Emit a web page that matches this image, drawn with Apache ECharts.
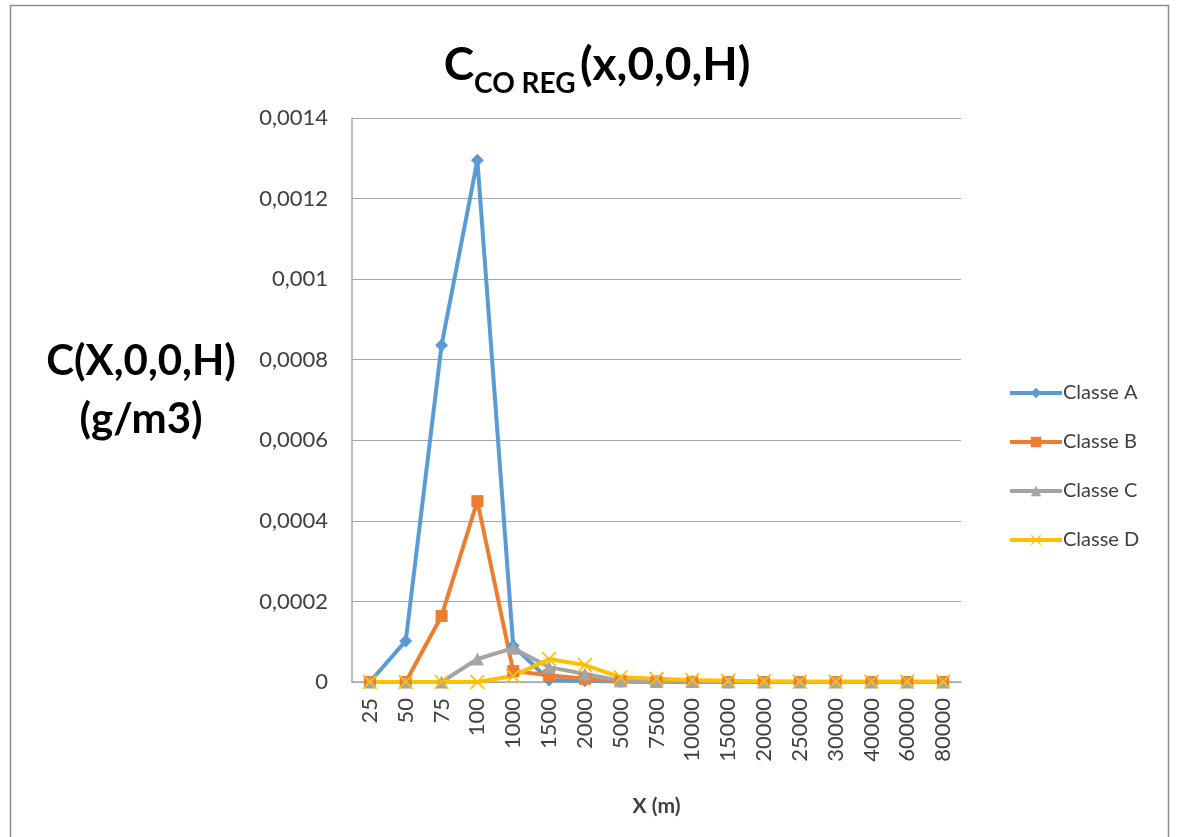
<!DOCTYPE html>
<html>
<head>
<meta charset="utf-8">
<script src="https://cdn.jsdelivr.net/npm/echarts@6/dist/echarts.min.js"></script>
<style>
  html, body { margin: 0; padding: 0; background: #fff; }
  #chart { width: 1177px; height: 837px; }
</style>
</head>
<body>
<div id="chart"></div>
<script>
// Distances along the plume axis (m)
const distances = ['25', '50', '75', '100', '1000', '1500', '2000', '5000', '7500',
  '10000', '15000', '20000', '25000', '30000', '40000', '60000', '80000'];

// Ground-level concentration per stability class (g/m3)
const classeA = [0, 0.000102, 0.000836, 0.001295, 0.00009, 0.000005, 0.000003, 0.000001, 0,
  0, 0, 0, 0, 0, 0, 0, 0];
const classeB = [0, 0, 0.000164, 0.000449, 0.000027, 0.000017, 0.000008, 0.000002, 0.000001,
  0, 0, 0, 0, 0, 0, 0, 0];
const classeC = [0, 0, 0, 0.000057, 0.000084, 0.000037, 0.00002, 0.000003, 0.000001,
  0.000001, 0, 0, 0, 0, 0, 0, 0];
const classeD = [0, 0, 0, 0, 0.000015, 0.000057, 0.000042, 0.000012, 0.000008,
  0.000005, 0.000003, 0.000002, 0.000001, 0.000001, 0.000001, 0.000001, 0.000001];

const seriesNames = ['Classe A', 'Classe B', 'Classe C', 'Classe D'];
const yTicks = { min: 0, max: 0.0014, step: 0.0002 };

const FONT = 'Lato, "Open Sans", sans-serif';
const crossSymbol = 'path://M0,0.8 L0.8,0 L5,4.2 L9.2,0 L10,0.8 L5.8,5 L10,9.2 L9.2,10 L5,5.8 L0.8,10 L0,9.2 L4.2,5 Z';

const chart = echarts.init(document.getElementById('chart'));

function lineSeries(name, data, color, symbol, size) {
  return {
    name: name,
    type: 'line',
    data: data,
    symbol: symbol,
    symbolSize: size,
    showAllSymbol: true,
    lineStyle: { color: color, width: 4 },
    itemStyle: { color: color },
    emphasis: { disabled: true },
    animation: false
  };
}

chart.setOption({
  backgroundColor: '#ffffff',
  textStyle: { fontFamily: FONT },
  graphic: [
    {
      type: 'rect',
      shape: { x: 10.5, y: 5.5, width: 1158, height: 840 },
      style: { fill: 'none', stroke: '#8c8c8c', lineWidth: 1.5 },
      silent: true
    },
    {
      type: 'text',
      x: 141,
      y: 332,
      style: {
        text: 'C(X,0,0,H)\n(g/m3)',
        font: 'bold 42px ' + FONT,
        fill: '#000',
        align: 'center',
        lineHeight: 58
      }
    }
  ],
  title: {
    text: '{c|C}{sub|CO REG} {c|(x,0,0,H)}',
    left: 592,
    textAlign: 'center',
    top: 29,
    textStyle: {
      rich: {
        c: { fontFamily: FONT, fontWeight: 'bold', fontSize: 46, color: '#000', verticalAlign: 'bottom', lineHeight: 54 },
        sub: { fontFamily: FONT, fontWeight: 'bold', fontSize: 28, color: '#000', verticalAlign: 'bottom', padding: [0, 0, -10, 0], lineHeight: 54 }
      }
    }
  },
  legend: {
    orient: 'vertical',
    left: 1003,
    top: 378,
    itemWidth: 52,
    itemHeight: 13,
    itemGap: 29,
    data: seriesNames,
    lineStyle: { width: 4 },
    textStyle: { fontFamily: FONT, fontSize: 20, color: '#404040', padding: [0, 0, 0, -4] },
    selectedMode: false
  },
  grid: { left: 352, right: 216, top: 118, bottom: 155, containLabel: false },
  xAxis: {
    type: 'category',
    data: distances,
    boundaryGap: true,
    name: 'X (m)',
    nameLocation: 'middle',
    nameGap: 114,
    nameTextStyle: { fontFamily: FONT, fontWeight: 'bold', fontSize: 21, color: '#404040' },
    axisLine: { lineStyle: { color: '#a6a6a6', width: 1.5 } },
    axisTick: { show: false },
    axisLabel: {
      rotate: 90,
      interval: 0,
      margin: 16,
      fontFamily: FONT,
      fontSize: 22,
      color: '#404040'
    }
  },
  yAxis: {
    type: 'value',
    min: yTicks.min,
    max: yTicks.max,
    interval: yTicks.step,
    axisLine: { show: true, lineStyle: { color: '#a6a6a6', width: 1.5 } },
    axisTick: { show: false },
    splitLine: { lineStyle: { color: '#a6a6a6', width: 1.2 } },
    axisLabel: {
      margin: 24,
      fontFamily: FONT,
      fontSize: 22,
      color: '#404040',
      formatter: function (v) {
        return v === 0 ? '0' : String(parseFloat(v.toFixed(4))).replace('.', ',');
      }
    }
  },
  series: [
    lineSeries('Classe A', classeA, '#5B9BD5', 'diamond', 13),
    lineSeries('Classe B', classeB, '#ED7D31', 'rect', 12),
    lineSeries('Classe C', classeC, '#A5A5A5', 'triangle', 13),
    lineSeries('Classe D', classeD, '#FFC000', crossSymbol, 15)
  ]
});
</script>
</body>
</html>
